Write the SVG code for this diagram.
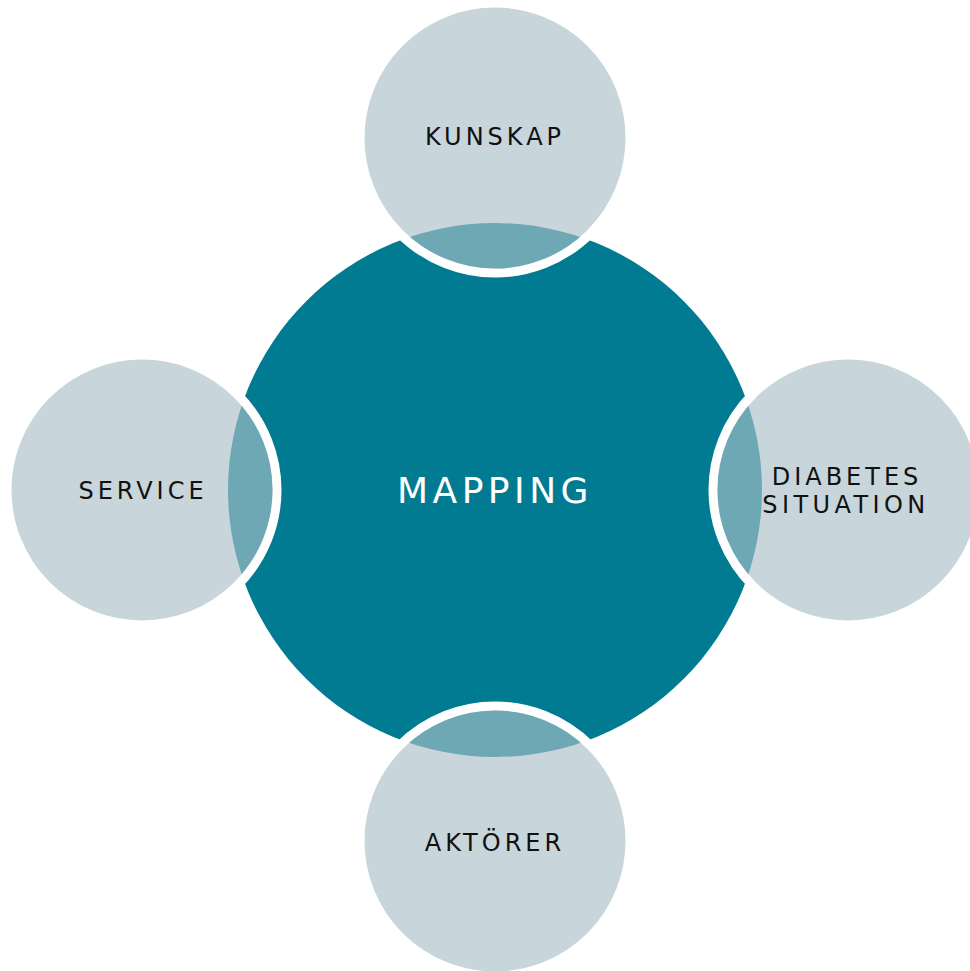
<svg xmlns="http://www.w3.org/2000/svg" width="970" height="971" viewBox="0 0 970 971">
<style>
.sat{fill:#c8d5db;stroke:#ffffff;stroke-width:9}
.lens{fill:#6fa8b5}
.lbl{font-family:"DejaVu Sans",Verdana,sans-serif;font-size:24px;letter-spacing:4px;fill:#111111;text-anchor:middle}
.main{font-family:"DejaVu Sans",Verdana,sans-serif;font-size:36px;letter-spacing:4.5px;fill:#ffffff;text-anchor:middle}
</style>
<defs>
<clipPath id="cc"><circle cx="495" cy="490" r="267"/></clipPath>
</defs>
<rect width="970" height="971" fill="#ffffff"/>
<g id="mapping">
<circle cx="495" cy="490" r="267" fill="#007b91"/>
<text class="main" x="495" y="503">MAPPING</text>
</g>
<g id="kunskap">
<circle class="sat" cx="495" cy="138" r="135"/>
<circle class="lens" cx="495" cy="138" r="130.5" clip-path="url(#cc)"/>
<text class="lbl" x="495" y="145">KUNSKAP</text>
</g>
<g id="diabetes">
<circle class="sat" cx="848" cy="490" r="135"/>
<circle class="lens" cx="848" cy="490" r="130.5" clip-path="url(#cc)"/>
<text class="lbl" x="847" y="485">DIABETES</text>
<text class="lbl" x="846" y="513" style="letter-spacing:4.4px">SITUATION</text>
</g>
<g id="aktorer">
<circle class="sat" cx="495" cy="841" r="135"/>
<circle class="lens" cx="495" cy="841" r="130.5" clip-path="url(#cc)"/>
<text class="lbl" x="495" y="851">AKTÖRER</text>
</g>
<g id="service">
<circle class="sat" cx="142" cy="490" r="135"/>
<circle class="lens" cx="142" cy="490" r="130.5" clip-path="url(#cc)"/>
<text class="lbl" x="143" y="499">SERVICE</text>
</g>
<g id="connectors"></g>
</svg>
